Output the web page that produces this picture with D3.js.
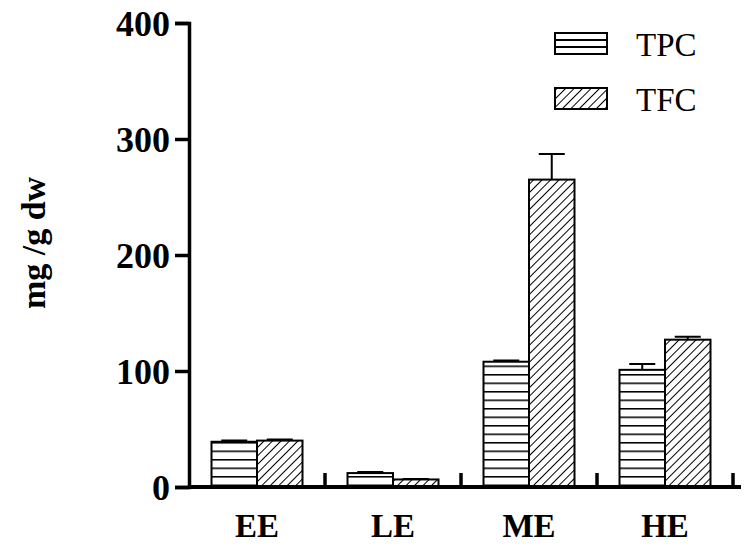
<!DOCTYPE html>
<html>
<head>
<meta charset="utf-8">
<script src="https://cdn.jsdelivr.net/npm/d3@7"></script>
<style>
    body { margin: 0; background: #fff; }
    svg text { font-family: "Liberation Serif", "Times New Roman", serif; }
</style>
</head>
<body>
<div id="chart"></div>
<script>
// data
var categories = ["EE", "LE", "ME", "HE"];
var series = ["TPC", "TFC"];
var tpcValues = [39, 12, 108, 101];
var tpcErrors = [1, 1, 1, 5];
var tfcValues = [40, 6.5, 265, 127];
var tfcErrors = [1, 0.5, 22, 2.5];
var yTicks = [0, 100, 200, 300, 400];

var width = 749,
    height = 550;
var margin = {top: 23, right: 9, bottom: 63, left: 189};

var svg = d3.select("#chart").append("svg")
            .attr("width", width)
            .attr("height", height);

var defs = svg.append("defs");
// horizontal stripes for TPC
var hp = defs.append("pattern")
    .attr("id", "hstripe")
    .attr("patternUnits", "userSpaceOnUse")
    .attr("width", 10).attr("height", 8.5);
hp.append("rect").attr("width", 10).attr("height", 8.5).attr("fill", "#fff");
hp.append("line").attr("x1", 0).attr("x2", 10).attr("y1", 0.75).attr("y2", 0.75)
    .attr("stroke", "#000").attr("stroke-width", 1.6);
// diagonal hatch for TFC
var dp = defs.append("pattern")
    .attr("id", "dhatch")
    .attr("patternUnits", "userSpaceOnUse")
    .attr("width", 6).attr("height", 6)
    .attr("patternTransform", "rotate(45)");
dp.append("rect").attr("width", 6).attr("height", 6).attr("fill", "#fff");
dp.append("line").attr("x1", 0).attr("x2", 0).attr("y1", 0).attr("y2", 6)
    .attr("stroke", "#000").attr("stroke-width", 2);

var x = d3.scaleBand()
    .domain(categories)
    .range([margin.left, margin.left + 4 * 136]);
var y = d3.scaleLinear()
    .domain([0, 400])
    .range([height - margin.bottom, margin.top]);

var barW = 45.5;
var fills = ["url(#hstripe)", "url(#dhatch)"];
var rows = [];
categories.forEach(function(c, i) {
    rows.push({cat: c, s: 0, v: tpcValues[i], e: tpcErrors[i]});
    rows.push({cat: c, s: 1, v: tfcValues[i], e: tfcErrors[i]});
});
var xPos = function(d) { return x(d.cat) + x.bandwidth() / 2 - barW + d.s * barW; };

var bars = svg.append("g");
// error bars first so bars cover the lower half
bars.selectAll(".err").data(rows).enter().append("path")
    .attr("class", "err")
    .attr("d", function(d) {
        var cx = xPos(d) + barW / 2;
        var top = y(d.v + d.e);
        return "M" + cx + "," + y(d.v) + "V" + top + "M" + (cx - 13) + "," + top + "H" + (cx + 13);
    })
    .attr("stroke", "#000").attr("stroke-width", 2).attr("fill", "none");

bars.selectAll(".bar").data(rows).enter().append("rect")
    .attr("class", "bar")
    .attr("x", xPos)
    .attr("y", function(d) { return y(d.v); })
    .attr("width", barW)
    .attr("height", function(d) { return y(0) - y(d.v); })
    .attr("fill", function(d) { return fills[d.s]; })
    .attr("stroke", "#000")
    .attr("stroke-width", 2);

// y axis
var yAxis = svg.append("g")
    .attr("transform", "translate(" + margin.left + ",0)")
    .call(d3.axisLeft(y).tickValues(yTicks).tickSize(14).tickPadding(5));
yAxis.select(".domain").attr("stroke-width", 3.5);
yAxis.selectAll(".tick line").attr("stroke-width", 3.5);
yAxis.selectAll(".tick text")
    .attr("font-size", 36).attr("font-weight", "bold").attr("fill", "#000")
    .attr("dy", "0.34em");

// x axis
var xAxis = svg.append("g")
    .attr("transform", "translate(0," + y(0) + ")");
xAxis.append("line")
    .attr("x1", margin.left).attr("x2", 741)
    .attr("stroke", "#000").attr("stroke-width", 4);
xAxis.selectAll(".xtick").data(categories).enter().append("line")
    .attr("class", "xtick")
    .attr("x1", function(d) { return x(d) + x.bandwidth(); })
    .attr("x2", function(d) { return x(d) + x.bandwidth(); })
    .attr("y1", 0).attr("y2", -14)
    .attr("stroke", "#000").attr("stroke-width", 3.5);
xAxis.selectAll(".xlab").data(categories).enter().append("text")
    .attr("class", "xlab")
    .attr("x", function(d) { return x(d) + x.bandwidth() / 2; })
    .attr("y", 50)
    .attr("text-anchor", "middle")
    .attr("font-size", 33).attr("font-weight", "bold")
    .text(function(d) { return d; });

// y label
svg.append("text")
    .attr("transform", "translate(45,243) rotate(-90)")
    .attr("text-anchor", "middle")
    .attr("font-size", 34).attr("font-weight", "bold")
    .text("mg /g dw");

// legend
var legend = svg.append("g");
series.forEach(function(s, i) {
    var ly = 33 + i * 55;
    legend.append("rect")
        .attr("x", 555).attr("y", ly)
        .attr("width", 52).attr("height", 21)
        .attr("fill", i === 0 ? "#fff" : fills[1])
        .attr("stroke", "#000").attr("stroke-width", 2);
    if (i === 0) {
        [7, 14].forEach(function(o) {
            legend.append("line")
                .attr("x1", 555).attr("x2", 607)
                .attr("y1", ly + o).attr("y2", ly + o)
                .attr("stroke", "#000").attr("stroke-width", 2);
        });
    }
    legend.append("text")
        .attr("x", 636).attr("y", ly + 23)
        .attr("font-size", 33)
        .text(s);
});
</script>
</body>
</html>
